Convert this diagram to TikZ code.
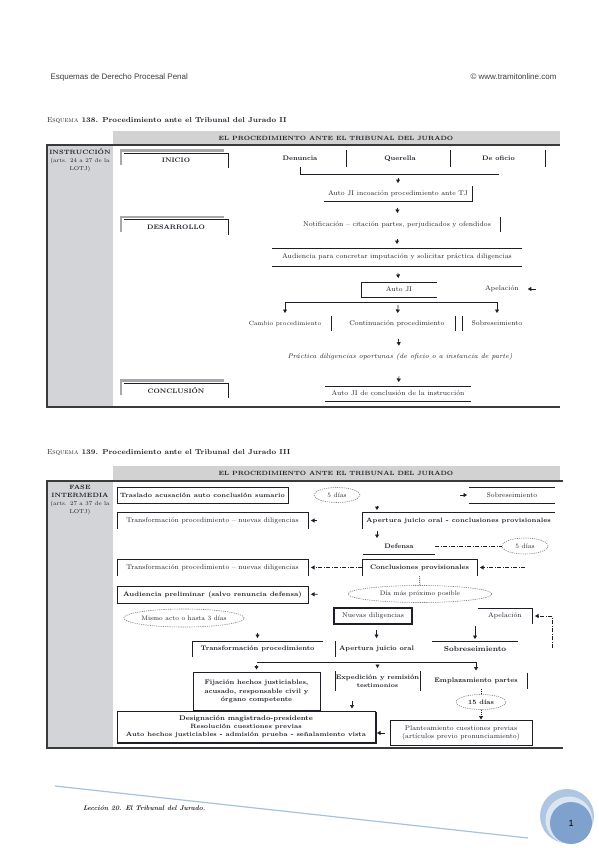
\documentclass[tikz,border=0pt]{standalone}
\usepackage{fontspec}
\setsansfont{Liberation Sans}
\usepackage{tikz}
\usetikzlibrary{shapes.geometric, arrows.meta, positioning}
\definecolor{ink}{HTML}{1E1E28}
\definecolor{framegray}{HTML}{3A3A3A}
\definecolor{bargray}{HTML}{D2D2D2}
\definecolor{colgray}{HTML}{D3D4D7}
\definecolor{shadegray}{HTML}{A8A8A8}
\definecolor{pagetext}{HTML}{3C3C3C}
\definecolor{footblue}{HTML}{A9C1DE}
\definecolor{ringout}{HTML}{AFC6E3}
\definecolor{ringmid}{HTML}{DCE6F2}
\definecolor{ringin}{HTML}{7EA1CD}

\begin{document}
\begin{tikzpicture}[x=1pt, y=-1pt,
    txt/.style={inner sep=0pt, outer sep=0pt, align=center, text=ink, font=\fontsize{6.8}{8}\selectfont},
    btxt/.style={txt, font=\fontsize{6.6}{8.2}\selectfont\bfseries},
    headtxt/.style={txt, font=\fontsize{6.1}{8}\selectfont\bfseries},
    ttl/.style={txt, anchor=west, font=\fontsize{7.2}{8}\selectfont\bfseries},
    coltxt/.style={txt, font=\fontsize{5.7}{8}\selectfont},
    phase/.style={txt, minimum width=105pt, minimum height=15pt, font=\fontsize{6.5}{8}\selectfont\bfseries},
    boxed/.style={draw=ink, line width=0.8pt},
    days/.style={ellipse, draw=gray, dash pattern=on 1.2pt off 1pt, line width=0.6pt, inner sep=0pt, text=ink, font=\fontsize{6.5}{8}\selectfont},
    rule/.style={line width=0.8pt, ink},
    arrowtip/.style={-{Triangle[length=3.5pt, width=4pt]}, line width=0.7pt, ink},
    dashdotline/.style={line width=0.6pt, ink, dash pattern=on 4pt off 1.5pt on 1pt off 1.5pt},
    dotline/.style={line width=0.6pt, ink, dash pattern=on 1pt off 1pt},
    pageframe/.style={line width=1.6pt, framegray},
    tabshade/.style={line width=2.6pt, shadegray},
  ]
  \useasboundingbox (0,0) rectangle (599,848);

  % page header
  \node[anchor=west, text=pagetext, font=\sffamily\fontsize{8}{9}\selectfont] (pagehead) at (47,77) {Esquemas de Derecho Procesal Penal};
  \node[anchor=east, text=pagetext, font=\sffamily\fontsize{8}{9}\selectfont] (pagesite) at (560,77) {\textcopyright\ www.tramitonline.com};

  % ---------- Esquema 138
  \node[ttl] (title1) at (47,121) {{\mdseries\textsc{Esquema}} 138. Procedimiento ante el Tribunal del Jurado II};
  \fill[bargray] (113,131) rectangle (560,145);
  \fill[colgray] (47,145) rectangle (113,407);
  \draw[pageframe] (560,145) -- (47,145) -- (47,407) -- (560,407);
  \node[headtxt] (head1) at (336,138) {EL PROCEDIMIENTO ANTE EL TRIBUNAL DEL JURADO};
  \node[coltxt] (instr) at (80,160) {{\fontsize{6.2}{8}\selectfont\bfseries INSTRUCCIÓN}\\(arts. 24 a 27 de la\\LOTJ)};

  \node[phase] (inicio) at (176,160.5) {INICIO};
  \node[phase] (desarrollo) at (176,227) {DESARROLLO};
  \node[phase] (conclusion) at (176,390.5) {CONCLUSIÓN};
  \foreach \p in {inicio, desarrollo, conclusion} {
    \draw[tabshade] ([shift={(-2.5pt,3pt)}]\p.south west) -- ([shift={(-2.5pt,2.5pt)}]\p.north west) -- ([shift={(-5pt,2.5pt)}]\p.north east);
    \draw[rule] (\p.north west) -- (\p.north east) -- (\p.south east);
  }

  \node[btxt, minimum width=92pt, minimum height=17pt] (denuncia) at (300,158.5) {Denuncia};
  \node[btxt, minimum width=100pt, minimum height=17pt, right=4pt of denuncia] (querella) {Querella};
  \node[btxt, minimum width=93pt, minimum height=17pt, right=2pt of querella] (deoficio) {De oficio};
  \foreach \s in {denuncia, querella, deoficio}
    \draw[rule] (\s.north east) -- (\s.south east);
  \draw[rule] (denuncia.south) |- ([yshift=-7pt]deoficio.south);
  \coordinate (srcjoin) at (398,174);

  \node[txt, minimum width=148pt, minimum height=15pt] (autoji1) at (398,193.5) {Auto JI incoación procedimiento ante TJ};
  \draw[rule] (autoji1.north east) -- (autoji1.south east) -- (autoji1.south west);
  \draw[arrowtip, shorten <=4pt, shorten >=3pt] (srcjoin) -- (autoji1);

  \node[txt, minimum width=206pt, minimum height=15pt] (notif) at (397,224.5) {Notificación – citación partes, perjudicados y ofendidos};
  \draw[rule] (notif.north east) -- (notif.south east);
  \draw[arrowtip, shorten <=7pt, shorten >=4pt] (autoji1) -- (notif);

  \node[txt, minimum width=250pt, minimum height=18pt] (aud) at (397,257) {Audiencia para concretar imputación y solicitar práctica diligencias};
  \draw[rule] (aud.north west) -- (aud.north east) (aud.south west) -- (aud.south east);
  \draw[arrowtip, shorten <=7pt, shorten >=4pt] (notif) -- (aud);

  \node[txt, minimum width=76pt, minimum height=15pt] (autoji2) at (399,289.5) {Auto JI};
  \draw[rule] (autoji2.north east) -- (autoji2.north west) -- (autoji2.south west) -- (autoji2.south east);
  \draw[arrowtip, shorten <=7pt, shorten >=4pt] (aud) -- (autoji2);

  \node[txt] (apel1) at (502,289) {Apelación};
  \coordinate (apelin1) at (536,289);
  \draw[arrowtip, shorten >=9pt] (apelin1) -- (apel1);

  \node[txt, font=\fontsize{6}{7}\selectfont, minimum width=92pt, minimum height=15pt] (cambio) at (285,323.5) {Cambio procedimiento};
  \node[txt, minimum width=116pt, minimum height=15pt] (contin) at (397,323.5) {Continuación procedimiento};
  \node[txt, minimum width=70pt, minimum height=15pt, right=7pt of contin] (sobres1) {Sobreseimiento};
  \draw[rule] (cambio.north east) -- (cambio.south east) (contin.north east) -- (contin.south east) (sobres1.north west) -- (sobres1.south west);
  \coordinate (split1) at (398,302);
  \draw[arrowtip, shorten >=3pt] (split1 -| sobres1.north) -- (split1 -| cambio.north) -- (cambio.north);
  \draw[arrowtip, shorten >=3pt] (split1 -| sobres1.north) -- (sobres1.north);
  \draw[arrowtip, shorten <=8pt, shorten >=3pt] (autoji2) -- (contin);

  \node[txt, font=\fontsize{6.8}{8}\selectfont\itshape] (pract) at (400,357) {Práctica diligencias oportunas (de oficio o a instancia de parte)};
  \draw[arrowtip, shorten <=8pt, shorten >=8pt] (contin) -- (pract);

  \node[txt, minimum width=146pt, minimum height=15pt] (autojc) at (398,393.5) {Auto JI de conclusión de la instrucción};
  \draw[rule] (autojc.north west) -- (autojc.north east) (autojc.south west) -- (autojc.south east);
  \draw[arrowtip, shorten <=16pt, shorten >=4pt] (pract) -- (autojc);

  % ---------- Esquema 139
  \node[ttl] (title2) at (47,453) {{\mdseries\textsc{Esquema}} 139. Procedimiento ante el Tribunal del Jurado III};
  \fill[bargray] (113,466) rectangle (560,481);
  \fill[colgray] (47,481) rectangle (113,748);
  \draw[pageframe] (563,481) -- (47,481) -- (47,748) -- (563,748);
  \node[headtxt] (head2) at (336,473.5) {EL PROCEDIMIENTO ANTE EL TRIBUNAL DEL JURADO};
  \node[coltxt] (fase) at (80,500) {{\fontsize{6.2}{8}\selectfont\bfseries FASE}\\{\fontsize{6.2}{8}\selectfont\bfseries INTERMEDIA}\\(arts. 27 a 37 de la\\LOTJ)};

  \node[btxt, boxed, font=\fontsize{6.2}{8}\selectfont\bfseries, minimum width=171pt, minimum height=16pt] (traslado) at (202.5,495) {Traslado acusación auto conclusión sumario};
  \node[days, minimum width=46pt, minimum height=15pt] (dias1) at (337,495) {5 días};
  \node[txt, minimum width=86pt, minimum height=16pt] (sobres2) at (512,495) {Sobreseimiento};
  \draw[rule] (sobres2.north west) -- (sobres2.north east) (sobres2.south west) -- (sobres2.south east);
  \draw[arrowtip, shorten <=100pt, shorten >=2pt] (dias1) -- (sobres2);

  \coordinate (colB) at (377,0);
  \node[btxt, font=\fontsize{6.3}{8}\selectfont\bfseries, minimum width=193pt, minimum height=17pt] (apert) at (458.5,520.5) {Apertura juicio oral - conclusiones provisionales};
  \draw[rule] (apert.south west) -- (apert.north west) -- (apert.north east);
  \draw[arrowtip, shorten <=3pt, shorten >=2pt] (sobres2.south -| colB) -- (apert.north -| colB);

  \node[txt, minimum width=191pt, minimum height=17pt] (transf1) at (212.5,520.5) {Transformación procedimiento – nuevas diligencias};
  \draw[rule] (transf1.south west) -- (transf1.north west) -- (transf1.north east) -- (transf1.south east);
  \draw[arrowtip, shorten <=45pt, shorten >=3pt] (apert) -- (transf1);

  \node[btxt, minimum width=72pt, minimum height=16pt] (defensa) at (399,546) {Defensa};
  \draw[rule] (defensa.south west) -- (defensa.south east);
  \draw[arrowtip, shorten <=2pt] (apert.south -| colB) -- (defensa.north -| colB);
  \node[days, minimum width=46pt, minimum height=16pt] (dias2) at (525,546) {5 días};
  \draw[dashdotline] (defensa) -- (dias2);

  \node[btxt, minimum width=115pt, minimum height=17pt] (concl) at (419.5,567.5) {Conclusiones provisionales};
  \draw[rule] (concl.south west) -- (concl.north west) -- (concl.north east) -- (concl.south east);
  \draw[dashdotline, arrowtip, shorten >=3pt] (dias2.south |- concl.east) -- (concl);

  \node[txt, minimum width=191pt, minimum height=17pt] (transf2) at (212.5,567.5) {Transformación procedimiento – nuevas diligencias};
  \draw[rule] (transf2.south west) -- (transf2.north west) -- (transf2.north east) -- (transf2.south east);
  \draw[dashdotline, arrowtip, shorten >=3pt] (concl) -- (transf2);

  \node[days, minimum width=144pt, minimum height=17pt] (diap) at (420,594) {Día más próximo posible};
  \draw[dotline] (concl) -- (diap);
  \node[btxt, boxed, font=\fontsize{6.4}{8}\selectfont\bfseries, minimum width=191pt, minimum height=17pt] (audpre) at (212.5,594.5) {Audiencia preliminar (salvo renuncia defensa)};
  \draw[arrowtip, shorten <=30pt, shorten >=3pt] (diap) -- (audpre);

  \node[days, minimum width=118pt, minimum height=18pt] (mismo) at (184,618) {Mismo acto o hasta 3 días};
  \node[txt, draw=ink, line width=1.1pt, minimum width=78pt, minimum height=16pt] (nuevas) at (373,616) {Nuevas diligencias};
  \node[txt, minimum width=54pt, minimum height=16pt] (apel2) at (505,616) {Apelación};
  \draw[rule] (apel2.north west) -- (apel2.north east) -- (apel2.south east);
  \coordinate (apelin2) at (552,648);
  \draw[dashdotline, arrowtip, shorten >=3pt] (apelin2) |- (apel2);

  \node[btxt, minimum width=131pt, minimum height=16pt] (transf3) at (257.5,649) {Transformación procedimiento};
  \draw[rule] (transf3.south west) -- (transf3.north west) -- (transf3.north east);
  \node[btxt, minimum width=83pt, minimum height=16pt] (apjo) at (376.5,649) {Apertura juicio oral};
  \draw[rule] (apjo.north west) -- (apjo.south west);
  \node[btxt, font=\fontsize{7.3}{9}\selectfont\bfseries, minimum width=86pt, minimum height=16pt] (sobres3) at (475,649) {Sobreseimiento};
  \draw[rule] (sobres3.north west) -- (sobres3.north east);
  \draw[arrowtip, shorten <=30pt, shorten >=3pt] (audpre.south -| transf3.north) -- (transf3.north);
  \draw[arrowtip, shorten <=6pt, shorten >=3pt] (nuevas.south -| apjo.north) -- (apjo.north);
  \draw[arrowtip, shorten <=2pt, shorten >=2pt] (apel2.south -| sobres3.north) -- (sobres3.north);

  \node[btxt, boxed, minimum width=127pt, minimum height=38pt] (fij) at (256.5,691.5) {Fijación hechos justiciables,\\acusado, responsable civil y\\órgano competente};
  \node[btxt, minimum width=85pt, minimum height=20pt] (exped) at (377.5,681) {Expedición y remisión\\{\fontsize{6}{7}\selectfont testimonios}};
  \draw[rule] (exped.north west) -- (exped.south west) (exped.north east) -- (exped.south east);
  \node[btxt, minimum width=102pt, minimum height=16pt] (empl) at (476,680.5) {Emplazamiento partes};
  \draw[rule] (empl.north east) -- (empl.south east);
  \coordinate (split2) at (377,662);
  \draw[arrowtip, shorten >=2pt] (split2 -| fij.north) -- (split2 -| empl.north) -- (empl.north);
  \draw[arrowtip, shorten <=3pt, shorten >=3pt] (split2 -| fij.north) -- (fij.north);
  \draw[arrowtip, shorten <=3pt, shorten >=3pt] (split2 -| exped.north) -- (exped.north);

  \node[days, font=\fontsize{6.5}{8}\selectfont\bfseries, minimum width=50pt, minimum height=15pt] (dias15) at (481,702) {15 días};
  \draw[dotline] (empl.south -| dias15.north) -- (dias15.north);

  \node[txt, draw=ink, line width=0.8pt, minimum width=258pt, minimum height=31pt] (desig) at (246,727) {{\fontsize{6.8}{8}\selectfont\bfseries Designación magistrado-presidente}\\{\fontsize{6.2}{7.5}\selectfont\bfseries Resolución cuestiones previas}\\{\fontsize{6.2}{7.5}\selectfont\bfseries Auto hechos justiciables - admisión prueba - señalamiento vista}};
  \draw[rule, line width=1.2pt] ([xshift=1.2pt]desig.north east) -- ([shift={(1.2pt,-1.2pt)}]desig.south east) -- ([yshift=-1.2pt]desig.south west);
  \coordinate (todesig) at (352,698);
  \draw[arrowtip, shorten <=3pt, shorten >=3pt] (todesig) -- (todesig |- desig.north);

  \node[txt, boxed, minimum width=142pt, minimum height=25pt] (plant) at (461,733) {Planteamiento cuestiones previas\\(artículos previo pronunciamiento)};
  \draw[dotline, arrowtip, shorten >=1pt] (dias15.south) -- (dias15.south |- plant.north);
  \draw[arrowtip, shorten <=5pt, shorten >=2pt] (plant.west) -- (plant.west -| desig.east);

  % footer
  \draw[footblue, line width=1.2pt] (55,786) -- (528,838);
  \node[txt, anchor=west, font=\fontsize{6.8}{8}\selectfont\bfseries\itshape] (lesson) at (83,808) {Lección 20. El Tribunal del Jurado.};
  \fill[ringout] (567,816) circle [radius=27pt];
  \fill[ringmid] (569,820) circle [radius=23.5pt];
  \fill[ringin] (571,823) circle [radius=21pt];
  \node[font=\sffamily\fontsize{9}{10}\selectfont] (pagenum) at (571,823) {1};
\end{tikzpicture}
\end{document}
